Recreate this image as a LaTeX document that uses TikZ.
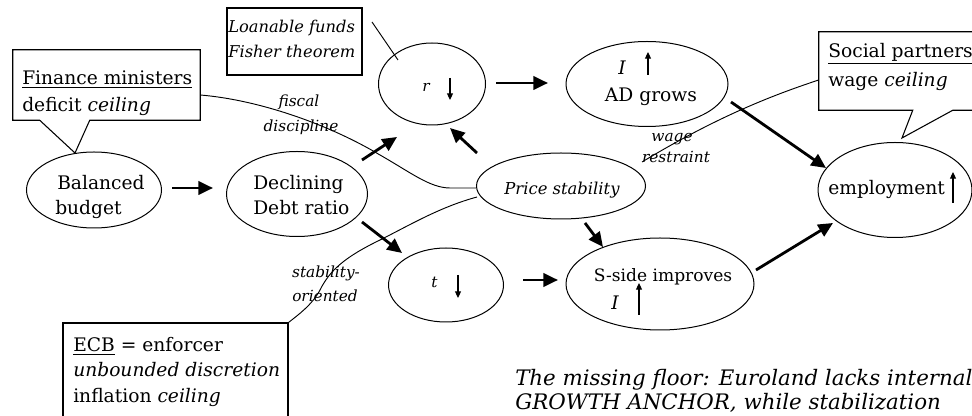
\documentclass[tikz,border=0pt]{standalone}
\usepackage{fontspec}
\setmainfont{DejaVu Serif}
\usetikzlibrary{shapes.geometric,arrows.meta}
\begin{document}
\begin{tikzpicture}[x=0.75pt,y=-0.75pt,
  ell/.style 2 args={ellipse,draw,line width=0.75pt,minimum width=#1*0.75pt,minimum height=#2*0.75pt,inner sep=0pt},
  boxarea/.style 2 args={rectangle,minimum width=#1*0.75pt,minimum height=#2*0.75pt,inner sep=0pt},
  outline/.style={line width=0.8pt},
  leader/.style={line width=0.7pt},
  lbl/.style={inner sep=0pt,font=\fontsize{14}{17}\selectfont},
  ilbl/.style={inner sep=0pt,font=\fontsize{14}{17}\selectfont\itshape},
  slbl/.style={inner sep=0pt,font=\fontsize{11.5}{14}\selectfont\itshape},
  notelbl/.style={inner sep=0pt,font=\fontsize{16}{19}\selectfont\itshape},
  bigarrow/.style={line width=2.1pt,-{Triangle[length=11pt,width=10pt]}},
  tinyarrow/.style={line width=0.8pt,-{Triangle[length=5pt,width=4.5pt]}}
]
\useasboundingbox (0,0) rectangle (972,416);
\begin{scope}
\clip (0,0) rectangle (972,416);

% ellipses
\node[ell={135}{76}] (bal) at (94,190) {};
\node[ell={141}{85}] (dec) at (297,194) {};
\node[ell={107}{82}] (rnode) at (432,84) {};
\node[ell={162}{85}] (ad) at (647,84) {};
\node[ell={169}{66}] (price) at (561,186) {};
\node[ell={115}{74}] (tnode) at (446,285) {};
\node[ell={188}{92}] (sside) at (660,284) {};
\node[ell={154}{95}] (emp) at (895,190) {};

% ellipse texts
\node[lbl,anchor=base west] (balA) at (57,190) {Balanced};
\node[lbl,anchor=base west] (balB) at (55,215) {budget};
\node[lbl,anchor=base west] (decA) at (253,190) {Declining};
\node[lbl,anchor=base west] (decB) at (253,215) {Debt ratio};
\node[slbl,anchor=base west] (rlab) at (422,92) {r};
\node[slbl,anchor=base west] (tlab) at (431,288) {t};
\node[ilbl,anchor=base west] (adI) at (618,75) {I};
\node[lbl,anchor=base] (adB) at (651,102) {AD grows};
\node[inner sep=0pt,font=\fontsize{12.3}{14}\selectfont\itshape,anchor=base] (pricelab) at (562,195) {Price stability};
\node[inner sep=0pt,font=\fontsize{12.8}{15}\selectfont,anchor=base] (ssA) at (663,282) {S-side improves};
\node[ilbl,anchor=base west] (ssI) at (611,310) {I};
\node[lbl,anchor=base west] (empl) at (828,195) {employment};

% small arrows inside ellipses
\draw[tinyarrow] ([shift={(18,-6)}]rnode.center) -- ([shift={(18,16)}]rnode.center);
\draw[tinyarrow] ([shift={(12,-10)}]tnode.center) -- ([shift={(12,13)}]tnode.center);
\draw[tinyarrow] ([shift={(1,-9)}]ad.center) -- ([shift={(1,-32)}]ad.center);
\draw[tinyarrow] ([shift={(-21,31)}]sside.center) -- ([shift={(-21,-1)}]sside.center);
\draw[tinyarrow] ([shift={(58,13)}]emp.center) -- ([shift={(58,-18)}]emp.center);

% big arrows
\draw[bigarrow] ([shift={(78,-2)}]bal.center) -- ([shift={(-84,-6)}]dec.center);
\draw[bigarrow] ([shift={(65,-34)}]dec.center) -- ([shift={(-35,53)}]rnode.center);
\draw[bigarrow] ([shift={(-84,-33)}]price.center) -- ([shift={(18,44)}]rnode.center);
\draw[bigarrow] ([shift={(64,-1)}]rnode.center) -- ([shift={(-99,-1)}]ad.center);
\draw[bigarrow] ([shift={(84,18)}]ad.center) -- ([shift={(-69,-22)}]emp.center);
\draw[bigarrow] ([shift={(65,28)}]dec.center) -- ([shift={(-44,-32)}]tnode.center);
\draw[bigarrow] ([shift={(24,37)}]price.center) -- ([shift={(-57,-37)}]sside.center);
\draw[bigarrow] ([shift={(77,-5)}]tnode.center) -- ([shift={(-102,-4)}]sside.center);
\draw[bigarrow] ([shift={(96,-14)}]sside.center) -- ([shift={(-62,33)}]emp.center);

% Loanable funds box
\node[boxarea={135}{67},draw,line width=0.8pt] (loan) at (294.5,41.5) {};
\node[inner sep=0pt,font=\fontsize{12.2}{14}\selectfont\itshape,anchor=base west] (loanA) at (228,33) {Loanable funds};
\node[inner sep=0pt,font=\fontsize{12.2}{14}\selectfont\itshape,anchor=base west] (loanB) at (228,58) {Fisher theorem};
\coordinate (loantip) at (372,22);
\draw[leader] (loantip) -- ([shift={(-34,-24)}]rnode.center);

% Finance ministers callout
\node[boxarea={187}{70}] (fin) at (106.5,85) {};
\draw[outline] ([shift={(27,0)}]fin.south west) -- (fin.south west) -- (fin.north west) -- (fin.north east) -- (fin.south east)
  -- ([shift={(77,0)}]fin.south west) -- ([shift={(-19,-37)}]bal.center) -- cycle;
\node[lbl,anchor=base west] (finA) at (22,85) {\underline{Finance ministers}};
\node[lbl,anchor=base west] (finB) at (22,112) {deficit \textit{ceiling}};

% fiscal discipline leader
\draw[leader] ([shift={(0,10)}]fin.east) .. controls (260,100) and (330,125) .. (380,155)
  .. controls (410,172) and (430,188) .. (450,188) -- ([shift={(0,2)}]price.west);
\node[slbl,anchor=base] (fisA) at (299,107) {fiscal};
\node[slbl,anchor=base] (fisB) at (301,132) {discipline};

% Social partners callout
\node[boxarea={181}{78}] (soc) at (909.5,71) {};
\draw[outline] ([shift={(94,0)}]soc.south west) -- (soc.south west) -- (soc.north west) -- (soc.north east) -- (soc.south east)
  -- ([shift={(134,0)}]soc.south west) -- ([shift={(7,-52)}]emp.center) -- cycle;
\node[lbl,anchor=base west] (socA) at (828,58) {\underline{Social partners}};
\node[lbl,anchor=base west] (socB) at (828,87) {wage \textit{ceiling}};

% wage restraint leader
\coordinate (wageend) at (642,162);
\draw[leader] ([shift={(0,9)}]soc.west) .. controls (770,96) and (715,118) .. (wageend);
\node[slbl,anchor=base] (wagA) at (672,142) {wage};
\node[slbl,anchor=base] (wagB) at (676,163) {restraint};

% ECB box
\node[boxarea={225}{114},draw,line width=0.8pt] (ecb) at (175.5,380) {};
\node[lbl,anchor=base west] (ecbA) at (73,352) {\underline{ECB} = enforcer};
\node[ilbl,anchor=base west] (ecbB) at (73,377) {unbounded discretion};
\node[lbl,anchor=base west] (ecbC) at (73,403) {inflation \textit{ceiling}};

% stability-oriented leader
\draw[leader] ([shift={(-84,11)}]price.center) .. controls (440,207) and (410,225) .. (380,240)
  .. controls (345,257) and (330,270) .. (320,290) .. controls (312,305) and (298,315) .. (ecb.north east);
\node[slbl,anchor=base] (stA) at (326,278) {stability-};
\node[slbl,anchor=base] (stB) at (325,302) {oriented};

% bottom note
\node[notelbl,anchor=base west] (bot1) at (515,386) {The missing floor: Euroland lacks internal};
\node[notelbl,anchor=base west] (bot2) at (515,410) {GROWTH ANCHOR, while stabilization};
\end{scope}
\end{tikzpicture}
\end{document}
